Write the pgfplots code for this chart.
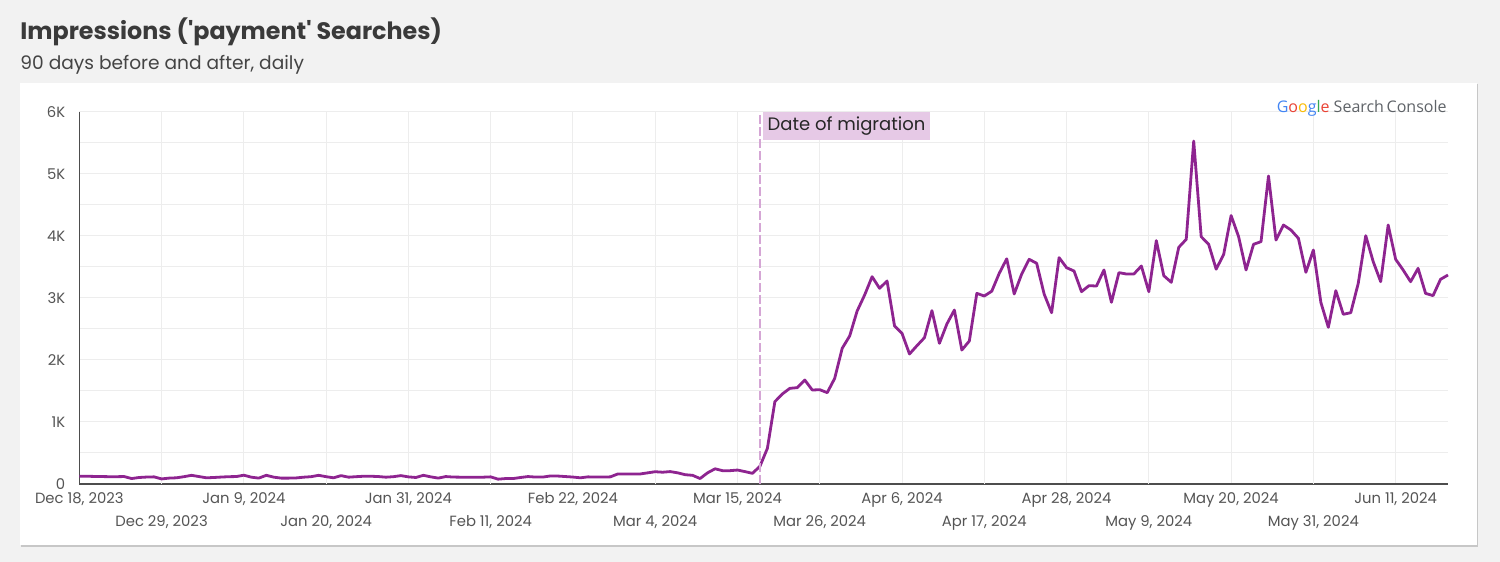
\documentclass[border=0pt]{standalone}
\usepackage{fontspec}
\setmainfont{Poppins}
\newfontfamily\gfont{Open Sans}
\usepackage{pgfplots}
\pgfplotsset{compat=1.18}
\usepackage{pgfplotstable}
\definecolor{bg}{HTML}{F2F2F2}
\definecolor{titlegray}{HTML}{3A3A3A}
\definecolor{subgray}{HTML}{444444}
\definecolor{labelgray}{HTML}{555555}
\definecolor{axisgray}{HTML}{4D4D4D}
\definecolor{gridgray}{HTML}{EDEDED}
\definecolor{linepurple}{HTML}{8E2490}
\definecolor{migline}{HTML}{D5A6D5}
\definecolor{miglabel}{HTML}{E6C9E6}
\definecolor{gblue}{HTML}{4285F4}
\definecolor{gred}{HTML}{EA4335}
\definecolor{gyellow}{HTML}{FBBC05}
\definecolor{ggreen}{HTML}{34A853}
\definecolor{ggray}{HTML}{5F6368}

\pgfplotstableread{
day val
0 125
1 125
2 122
3 120
4 118
5 118
6 120
7 88
8 105
9 112
10 115
11 82
12 95
13 100
14 118
15 140
16 120
17 100
18 105
19 112
20 118
21 120
22 142
23 110
24 95
25 140
26 110
27 95
28 95
29 98
30 110
31 118
32 140
33 118
34 100
35 135
36 110
37 118
38 125
39 125
40 120
41 110
42 118
43 135
44 115
45 105
46 140
47 115
48 95
49 120
50 112
51 110
52 110
53 108
54 110
55 115
56 78
57 88
58 88
59 105
60 120
61 112
62 112
63 130
64 128
65 120
66 112
67 100
68 115
69 112
70 112
71 115
72 162
73 160
74 160
75 162
76 180
77 198
78 190
79 200
80 180
81 150
82 140
83 88
84 180
85 245
86 215
87 215
88 225
89 200
90 172
91 285
92 575
93 1328
94 1452
95 1543
96 1554
97 1677
98 1516
99 1521
100 1473
101 1704
102 2188
103 2387
104 2790
105 3048
106 3344
107 3156
108 3274
109 2548
110 2430
111 2097
112 2231
113 2360
114 2796
115 2269
116 2581
117 2806
118 2161
119 2306
120 3075
121 3032
122 3110
123 3398
124 3632
125 3065
126 3387
127 3624
128 3560
129 3065
130 2763
131 3651
132 3489
133 3435
134 3102
135 3199
136 3193
137 3452
138 2930
139 3409
140 3387
141 3387
142 3516
143 3102
144 3925
145 3360
146 3253
147 3817
148 3946
149 5532
150 3989
151 3866
152 3465
153 3700
154 4330
155 3990
156 3452
157 3866
158 3909
159 4968
160 3935
161 4177
162 4097
163 3962
164 3414
165 3774
166 2930
167 2527
168 3118
169 2737
170 2763
171 3237
172 4005
173 3586
174 3263
175 4177
176 3624
177 3452
178 3263
179 3478
180 3075
181 3038
182 3301
183 3371
}\impr

\begin{document}
\begin{tikzpicture}[x=1pt,y=1pt]
\useasboundingbox (0,0) rectangle (750,281);
\fill[bg] (0,0) rectangle (750,281);
\fill[black!22] (10.4,7.6) rectangle (739.2,239);
\fill[white] (10,8.5) rectangle (738.5,239.5);
\node[anchor=base west, inner sep=0, text=titlegray, font=\bfseries\fontsize{11.9}{14}\selectfont] at (10,261) {Impressions (\textquotesingle payment\textquotesingle{} Searches)};
\node[anchor=base west, inner sep=0, text=subgray, font=\fontsize{9.3}{11}\selectfont] at (10,246) {90 days before and after, daily};
\begin{axis}[
  at={(39.65pt,39pt)}, anchor=south west,
  scale only axis, width=684.35pt, height=186pt,
  xmin=0, xmax=183, ymin=0, ymax=6000,
  axis x line*=bottom, axis y line*=left,
  axis line style={axisgray, line width=0.75pt, -},
  xtick={0,22,...,176},
  xticklabels={{Dec 18, 2023},{Jan 9, 2024},{Jan 31, 2024},{Feb 22, 2024},{Mar 15, 2024},{Apr 6, 2024},{Apr 28, 2024},{May 20, 2024},{Jun 11, 2024}},
  extra x ticks={11,33,...,165},
  extra x tick labels={{Dec 29, 2023},{Jan 20, 2024},{Feb 11, 2024},{Mar 4, 2024},{Mar 26, 2024},{Apr 17, 2024},{May 9, 2024},{May 31, 2024}},
  extra x tick style={grid=major, xticklabel style={yshift=-11.5pt}},
  ytick={0,1000,...,6000},
  yticklabels={0,1K,2K,3K,4K,5K,6K},
  minor ytick={500,1500,...,5500},
  xmajorgrids, ymajorgrids, yminorgrids,
  major grid style={gridgray, line width=0.5pt},
  minor grid style={gridgray, line width=0.5pt},
  major tick length=0pt, minor tick length=0pt,
  tick style={draw=none},
  ticklabel style={font=\fontsize{7.4}{9}\selectfont, text=labelgray},
  xticklabel style={text height=5.6pt, text depth=1.4pt, yshift=-0.8pt},
  yticklabel style={xshift=-3.5pt},
  clip=false,
]
\addplot[linepurple, line width=1.4pt, line join=round, mark=none] table[x=day, y=val] {\impr};
\draw[migline, line width=1.1pt, dash pattern=on 4.5pt off 1.5pt] (axis cs:91,0) -- (axis cs:91,6000);
\node[anchor=north west, fill=miglabel, inner xsep=2.5pt, inner ysep=2.2pt, xshift=1.2pt, text=black!85, font=\fontsize{9}{11}\selectfont] at (axis cs:91,6000) {Date of migration};
\end{axis}
\node[anchor=base east, inner sep=0, font=\gfont\fontsize{8}{10}\selectfont] at (723.5,224.5) {\textcolor{gblue}{G}\textcolor{gred}{o}\textcolor{gyellow}{o}\textcolor{gblue}{g}\textcolor{ggreen}{l}\textcolor{gred}{e} \textcolor{ggray}{Search\,Console}};
\end{tikzpicture}
\end{document}
